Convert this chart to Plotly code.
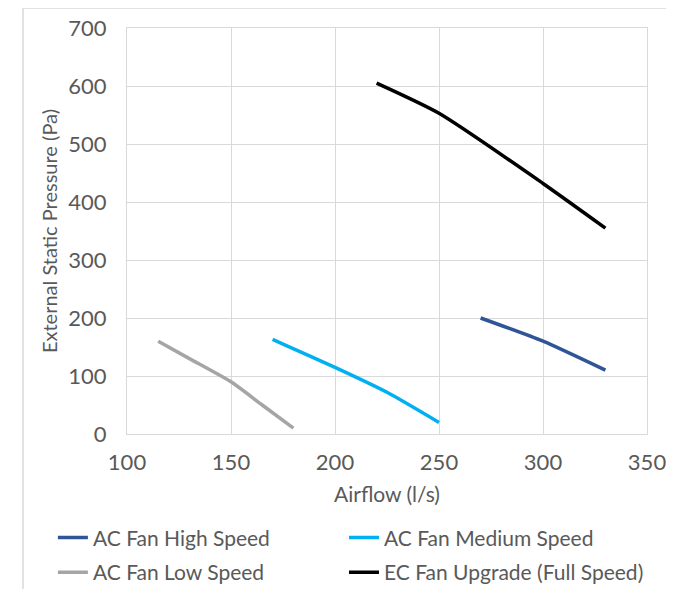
import plotly.graph_objects as go

# Data
high_x = [270, 300, 330]
high_y = [200, 160, 110]
med_x = [170, 175, 200, 225, 250]
med_y = [163, 155, 115, 72, 20]
low_x = [115, 130, 150, 165, 180]
low_y = [160, 130, 90, 50, 10]
ec_x = [220, 250, 300, 330]
ec_y = [605, 553, 432, 355]

names = ["AC Fan High Speed", "AC Fan Medium Speed", "AC Fan Low Speed", "EC Fan Upgrade (Full Speed)"]
colors = ["#2F5597", "#00B0F0", "#A5A5A5", "#000000"]
xs = [high_x, med_x, low_x, ec_x]
ys = [high_y, med_y, low_y, ec_y]
legend_ids = ["legend", "legend2", "legend3", "legend4"]

FONT = "Lato"
TXT = "#595959"
GRID = "#D9D9D9"

fig = go.Figure()
for n, c, x, y, lg in zip(names, colors, xs, ys, legend_ids):
    fig.add_trace(go.Scatter(x=x, y=y, name=n, mode="lines", legend=lg,
                             line=dict(color=c, width=3.5, shape="spline", smoothing=0.6)))

leg_common = dict(orientation="h", xanchor="left", yanchor="top",
                  font=dict(family=FONT, size=21, color=TXT),
                  itemwidth=30, bgcolor="rgba(0,0,0,0)")
col1_x, col2_x = -0.1425, 0.4173
row1_y, row2_y = -0.205, -0.291

fig.update_layout(
    width=666, height=581,
    margin=dict(l=119, r=27, t=20, b=155, autoexpand=False),
    paper_bgcolor="white", plot_bgcolor="white",
    font=dict(family=FONT, color=TXT),
    showlegend=True,
    legend=dict(x=col1_x, y=row1_y, **leg_common),
    legend2=dict(x=col2_x, y=row1_y, **leg_common),
    legend3=dict(x=col1_x, y=row2_y, **leg_common),
    legend4=dict(x=col2_x, y=row2_y, **leg_common),
    xaxis=dict(range=[100, 350], dtick=50, tick0=100, showgrid=True, gridcolor=GRID, gridwidth=1,
               showline=True, linecolor=GRID, mirror=True, zeroline=False,
               ticks="", ticklabelstandoff=9,
               tickfont=dict(family=FONT, size=22, color=TXT),
               title=dict(text="Airflow (l/s)", font=dict(family=FONT, size=21, color=TXT), standoff=12)),
    yaxis=dict(range=[0, 700], dtick=100, showgrid=True, gridcolor=GRID, gridwidth=1,
               showline=True, linecolor=GRID, mirror=True, zeroline=False,
               ticks="", ticklabelstandoff=15,
               tickfont=dict(family=FONT, size=22, color=TXT),
               title=dict(text="External Static Pressure (Pa)", font=dict(family=FONT, size=20, color=TXT), standoff=5)),
    shapes=[
        dict(type="line", xref="paper", yref="paper", x0=-0.2, x1=1.1, y0=1.049, y1=1.049,
             line=dict(color=GRID, width=1.5)),
        dict(type="line", xref="paper", yref="paper", x0=-0.2, x1=-0.2, y0=1.049, y1=-0.4,
             line=dict(color=GRID, width=1.5)),
    ],
)

fig.write_html("out.html")
